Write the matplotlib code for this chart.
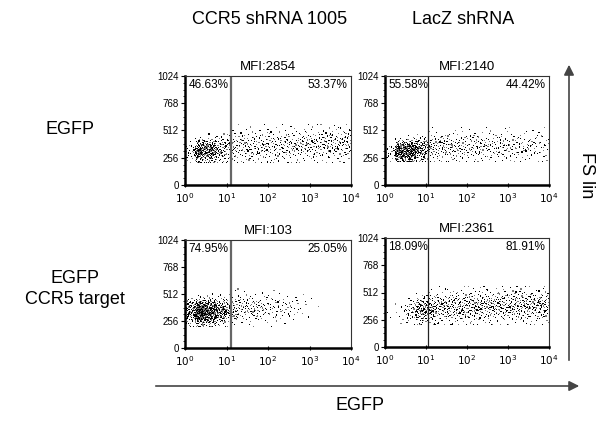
import matplotlib
matplotlib.use("Agg")
import matplotlib.pyplot as plt
import numpy as np
from statistics import NormalDist
from matplotlib.ticker import FixedLocator, LogLocator, NullFormatter

plt.rcParams['font.family'] = ['Liberation Sans', 'DejaVu Sans']

# ---- data ----
col_titles = ["CCR5 shRNA 1005", "LacZ shRNA"]
row_titles = ["EGFP", "EGFP\nCCR5 target"]
mfi = ["MFI:2854", "MFI:2140", "MFI:103", "MFI:2361"]
pct_left = ["46.63%", "55.58%", "74.95%", "18.09%"]
pct_right = ["53.37%", "44.42%", "25.05%", "81.91%"]
gate_x = [12.6, 11.5, 12.6, 11.5]          # EGFP gate position
y_ticks = [0, 256, 512, 768, 1024]
x_decades = [0, 1, 2, 3, 4]

# event counts per 0.25-decade EGFP bin (10^0 .. 10^4), 16 bins
bin_counts = [
    [22, 140, 125, 65, 45, 38, 38, 38, 38, 38, 38, 40, 40, 42, 42, 44],
    [16, 165, 165, 95, 45, 38, 36, 36, 33, 33, 30, 30, 28, 25, 22, 22],
    [90, 250, 190, 100, 60, 38, 36, 30, 25, 19, 14, 6, 2, 0, 0, 0],
    [2, 7, 34, 88, 77, 55, 55, 55, 56, 56, 56, 56, 57, 57, 57, 57],
]
# FS lin centre / spread per bin
bin_ycenter = [
    [320, 315, 320, 330, 350, 360, 360, 365, 365, 370, 370, 375, 380, 385, 390, 395],
    [315, 315, 320, 330, 350, 355, 355, 360, 360, 360, 360, 365, 365, 365, 365, 365],
    [345, 340, 340, 350, 365, 375, 380, 380, 380, 385, 385, 390, 390, 390, 390, 390],
    [300, 330, 340, 345, 355, 370, 375, 380, 380, 380, 385, 385, 385, 385, 385, 390],
]
bin_ysd = [
    [60, 55, 60, 65, 80, 85, 85, 85, 85, 85, 85, 85, 85, 85, 85, 85],
    [55, 52, 55, 60, 72, 76, 76, 76, 76, 76, 76, 76, 76, 76, 76, 76],
    [65, 60, 62, 65, 72, 72, 72, 72, 72, 72, 72, 72, 72, 72, 72, 72],
    [60, 60, 65, 70, 78, 82, 82, 82, 82, 82, 82, 82, 82, 82, 82, 82],
]
y_clip = [(210, 565), (220, 540), (200, 560), (210, 565)]

# ---- layout ----
W, H = 600, 422
fig = plt.figure(figsize=(6, 4.22), dpi=100)
boxes = [(185, 76, 351, 185), (385, 76, 549, 185),
         (185, 240, 351, 348), (385, 238, 549, 347)]
gate_style = [("#666666", 1.6), ("#222222", 0.9), ("#666666", 1.6), ("#222222", 0.9)]


def halton(i, b):
    f, r = 1.0, 0.0
    while i > 0:
        f /= b
        r += f * (i % b)
        i //= b
    return r


nd = NormalDist()

for p in range(4):
    l, t, r, b = boxes[p]
    ax = fig.add_axes([l / W, 1 - b / H, (r - l) / W, (b - t) / H])
    xs, ys, shade = [], [], []
    idx = 0
    lo, hi = y_clip[p]
    for j, c in enumerate(bin_counts[p]):
        for k in range(c):
            idx += 1
            u = halton(idx, 2)
            v = halton(idx, 3)
            w = halton(idx, 5)
            v = min(max(v, 0.002), 0.998)
            xs.append(10 ** (0.25 * j + 0.25 * u))
            ys.append(min(max(bin_ycenter[p][j] + bin_ysd[p][j] * nd.inv_cdf(v), lo), hi))
            shade.append('#000000' if w < 0.6 else '#7a7a7a')
    ax.scatter(xs, ys, s=0.7, marker='s', c=shade, linewidths=0)
    ax.set_xscale('log')
    ax.set_xlim(1, 1e4)
    ax.set_ylim(0, 1024)
    gc, gw = gate_style[p]
    ax.axvline(gate_x[p], color=gc, lw=gw)
    ax.set_yticks(y_ticks)
    ax.set_yticklabels([str(v) for v in y_ticks], fontsize=7)
    ax.yaxis.set_minor_locator(FixedLocator(np.arange(0, 1025, 64)))
    ax.set_xticks([10 ** d for d in x_decades])
    ax.set_xticklabels([r"$10^{%d}$" % d for d in x_decades], fontsize=7.5)
    ax.xaxis.set_minor_locator(LogLocator(base=10, subs=np.arange(2, 10)))
    ax.xaxis.set_minor_formatter(NullFormatter())
    ax.tick_params(axis='y', which='major', length=3, width=0.8, pad=1.5)
    ax.tick_params(axis='y', which='minor', length=1.5, width=0.6)
    ax.tick_params(axis='x', which='major', length=3, width=0.8, direction='inout', pad=3)
    ax.tick_params(axis='x', which='minor', length=2, width=0.5, direction='in')
    for s in ['left', 'bottom']:
        ax.spines[s].set_linewidth(1.8)
        ax.spines[s].set_color('black')
    for s in ['top', 'right']:
        ax.spines[s].set_linewidth(0.8)
        ax.spines[s].set_color('#333333')
    ax.text(0.02, 0.97, pct_left[p], transform=ax.transAxes, ha='left', va='top', fontsize=8.5)
    ax.text(0.98, 0.97, pct_right[p], transform=ax.transAxes, ha='right', va='top', fontsize=8.5)
    ax.set_title(mfi[p], fontsize=9.5, pad=4)

# column / row titles
fig.text(270 / W, 1 - 20 / H, col_titles[0], ha='center', va='center', fontsize=13)
fig.text(463 / W, 1 - 20 / H, col_titles[1], ha='center', va='center', fontsize=13)
fig.text(70 / W, 1 - 130 / H, row_titles[0], ha='center', va='center', fontsize=13)
fig.text(75 / W, 1 - 289 / H, row_titles[1], ha='center', va='center', fontsize=13,
         linespacing=1.25)

# axis arrows
fig.add_artist(matplotlib.patches.FancyArrowPatch(
    (569 / W, 1 - 363 / H), (569 / W, 1 - 62 / H), transform=fig.transFigure,
    arrowstyle='-|>,head_length=6,head_width=3', color='#444444', lw=1.2,
    mutation_scale=1))
fig.add_artist(matplotlib.patches.FancyArrowPatch(
    (153 / W, 1 - 386 / H), (582 / W, 1 - 386 / H), transform=fig.transFigure,
    arrowstyle='-|>,head_length=6,head_width=3', color='#444444', lw=1.2,
    mutation_scale=1))
fig.text(587 / W, 1 - 175 / H, "FS lin", ha='center', va='center', fontsize=13, rotation=-90)
fig.text(360 / W, 1 - 406 / H, "EGFP", ha='center', va='center', fontsize=13)

fig.savefig("out.png", dpi=100)
